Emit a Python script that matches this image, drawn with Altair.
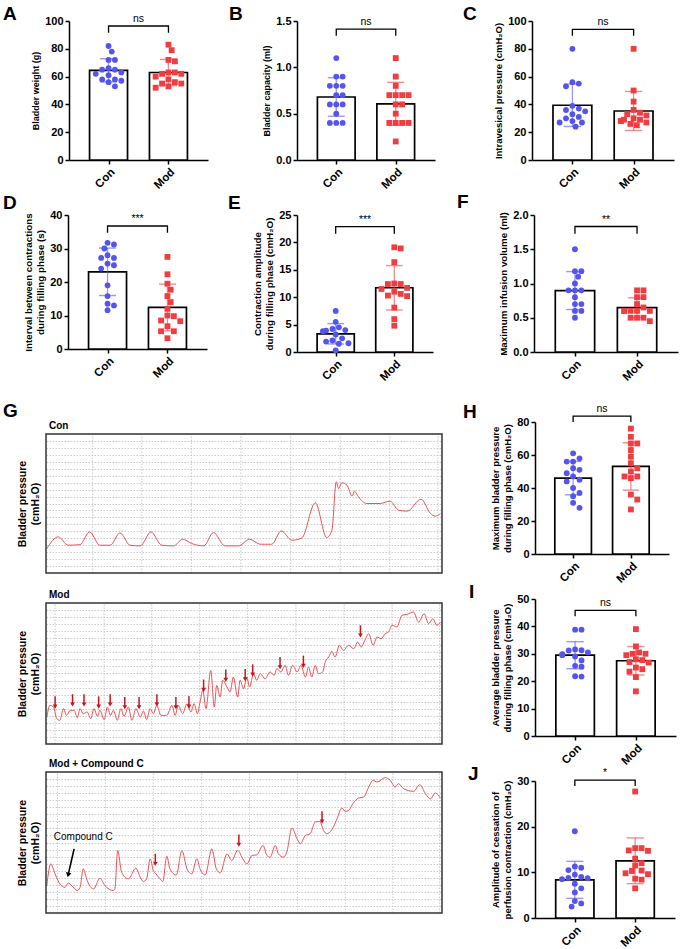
import altair as alt
import numpy as np
import pandas as pd

FONT = "Liberation Sans"
GROUPS = ["Con", "Mod"]
PT_COLORS = ["#5454ee", "#ef3e42"]
TRACE_COLOR = "#ea3f45"
ARROW_COLOR = "#c9141b"

# ---------------- bar-panel values ----------------
A_con = [82, 78, 72, 72, 66, 65, 65, 63, 62, 61, 58, 58, 57, 56, 53]
A_mod = [83, 79, 72, 71, 63, 63, 62, 62, 60, 58, 56, 55, 55, 53, 52]
B_con = [1.1, 0.9, 0.9, 0.8, 0.8, 0.8, 0.7, 0.7, 0.6, 0.6, 0.6, 0.5, 0.4, 0.4, 0.4]
B_mod = [1.1, 0.9, 0.8, 0.7, 0.7, 0.7, 0.7, 0.6, 0.6, 0.5, 0.4, 0.4, 0.4, 0.4, 0.2]
C_con = [80, 56, 55, 53, 39, 37, 36, 35, 33, 31, 30, 28, 27, 27, 24]
C_mod = [80, 50, 42, 36, 34, 33, 32, 30, 29, 29, 28, 28, 27, 26, 25]
D_con = [31.7, 31.2, 30.0, 28.0, 27.2, 27.2, 25.5, 25.0, 24.0, 19.0, 15.8, 13.5, 13.0, 11.6]
D_mod = [27.5, 22.3, 19.5, 17.7, 15.8, 14.0, 12.0, 10.0, 9.8, 8.5, 8.3, 6.8, 5.3, 5.3, 3.2]
E_con = [7.5, 5.5, 4.5, 4.2, 4.0, 3.9, 3.8, 3.2, 2.5, 2.1, 1.9, 1.6, 1.5, 0.3]
E_mod = [19.1, 18.9, 16.4, 12.5, 12.4, 12.4, 11.7, 11.5, 11.0, 10.6, 10.3, 10.2, 8.1, 6.0, 4.8]
F_con = [1.5, 1.18, 1.18, 1.1, 1.0, 0.9, 0.9, 0.9, 0.8, 0.7, 0.7, 0.6, 0.6, 0.5]
F_mod = [0.9, 0.9, 0.8, 0.8, 0.7, 0.65, 0.6, 0.6, 0.6, 0.6, 0.6, 0.5, 0.5, 0.5, 0.45]
H_con = [61, 58, 56, 56, 52, 51, 49, 47, 45, 44, 40, 37, 35, 31, 28]
H_mod = [76, 71, 67, 67, 63, 59, 55, 52, 50, 47, 47, 46, 36, 33, 27]
I_con = [38.8, 38.8, 31.6, 31.3, 31.2, 30.5, 29.9, 29.7, 29.5, 29.0, 27.6, 25.6, 25.3, 21.8, 21.7]
I_mod = [39.0, 32.7, 30.5, 30.0, 30.0, 29.5, 28.0, 27.7, 27.0, 26.8, 25.0, 24.4, 23.5, 21.5, 16.3]
J_con = [19.0, 11.3, 11.0, 10.5, 9.5, 9.0, 8.8, 8.7, 8.5, 7.5, 6.5, 5.6, 3.7, 3.2, 2.5]
J_mod = [27.7, 15.3, 15.3, 14.8, 14.7, 13.0, 12.0, 11.5, 10.4, 10.3, 9.8, 9.6, 8.6, 8.4, 6.5]

# ---------------- cystometry traces (time %, pressure %) ----------------
CON_T = [0.2, 3.1, 5.6, 8.6, 11.0, 13.6, 16.2, 18.7, 21.2, 23.8, 26.5, 29.2, 32.2, 34.5,
         36.8, 39.8, 42.3, 45.2, 48.6, 51.4, 54.1, 57.0, 59.4, 62.1, 64.6, 68.0, 70.9, 72.2,
         73.3, 73.9, 74.7, 76.0, 77.3, 77.9, 78.9, 81.0, 84.4, 86.9, 89.0, 91.2, 94.7, 97.1,
         98.3, 99.6]
CON_P = [17.5, 26.0, 20.0, 20.4, 29.6, 20.0, 20.0, 28.8, 20.0, 19.5, 29.6, 20.0, 19.5, 24.3,
         21.2, 19.5, 29.1, 19.5, 19.5, 24.3, 20.7, 20.7, 30.3, 23.6, 25.2, 50.5, 25.5, 30.8,
         65.6, 60.8, 64.9, 63.2, 55.3, 58.9, 54.8, 50.0, 50.0, 51.7, 45.2, 44.5, 53.1, 42.8,
         40.9, 42.8]
MOD_T = [0.2, 1.0, 1.9, 2.7, 3.5, 4.4, 5.2, 6.1, 7.1, 7.9, 8.6, 9.4, 10.4, 11.3, 12.1, 13.0,
         13.6, 14.7, 15.5, 16.3, 17.0, 18.0, 18.9, 19.7, 20.8, 21.7, 22.7, 23.8, 24.6, 25.4,
         26.3, 27.1, 28.0, 29.0, 30.5, 31.8, 32.6, 33.4, 34.5, 35.6, 36.6, 37.4, 38.2, 38.9,
         39.6, 40.4, 41.6, 42.5, 43.1, 44.0, 44.6, 45.7, 46.5, 47.3, 48.4, 49.0, 49.9, 50.7,
         51.4, 52.4, 53.2, 54.1, 55.3, 56.6, 57.6, 58.3, 59.3, 60.4, 61.2, 62.3, 63.4, 64.4,
         65.5, 66.3, 67.1, 68.0, 68.8, 69.9, 70.5, 71.4, 72.2, 73.0, 74.1, 75.1, 76.4, 77.7,
         78.7, 79.6, 80.6, 81.5, 82.6, 83.6, 84.6, 85.7, 86.5, 87.4, 88.6, 89.9, 91.2, 92.8,
         94.1, 95.5, 96.6, 97.7, 98.7, 99.6]
MOD_P = [19.1, 27.4, 26.2, 18.0, 16.8, 25.1, 20.3, 23.9, 23.9, 18.7, 25.1, 21.5, 22.7, 18.0,
         25.1, 19.6, 23.9, 17.3, 26.2, 20.3, 23.9, 16.8, 25.1, 19.6, 26.2, 16.8, 25.1, 19.1,
         23.4, 17.3, 25.1, 21.5, 27.4, 20.3, 20.3, 27.4, 20.3, 27.4, 21.5, 28.6, 22.7, 28.6,
         21.5, 29.8, 38.1, 25.1, 52.2, 26.2, 41.6, 33.3, 45.2, 40.4, 36.9, 47.5, 33.3, 45.2,
         39.2, 47.5, 40.4, 49.9, 45.2, 49.9, 46.3, 51.1, 48.7, 53.4, 51.1, 55.8, 48.7, 55.8,
         51.1, 55.8, 47.5, 54.6, 47.5, 55.8, 49.9, 51.1, 58.2, 61.7, 65.7, 61.7, 70.0, 66.4,
         70.0, 67.6, 72.3, 68.8, 74.0, 78.3, 70.0, 75.9, 74.7, 78.3, 79.4, 84.2, 83.0, 91.3,
         92.0, 93.6, 86.5, 92.4, 85.3, 88.9, 84.2, 86.5]
MODC_T = [0.2, 1.2, 2.3, 3.5, 4.8, 5.6, 6.5, 7.9, 8.6, 9.4, 10.4, 12.0, 13.6, 14.9, 17.0,
          17.4, 18.1, 19.1, 20.8, 22.7, 23.8, 24.6, 25.4, 26.3, 27.1, 27.8, 28.8, 29.5, 30.5,
          31.3, 32.9, 34.3, 35.6, 36.8, 38.1, 38.9, 40.2, 41.9, 43.0, 44.0, 45.7, 46.9, 48.4,
          49.7, 50.7, 52.0, 53.2, 54.8, 55.8, 56.6, 57.9, 58.7, 60.0, 60.8, 62.1, 63.4, 64.2,
          65.5, 66.7, 68.0, 69.1, 70.1, 70.9, 72.2, 73.5, 74.7, 75.6, 76.4, 77.5, 78.9, 80.2,
          81.5, 82.6, 83.6, 85.7, 86.9, 88.2, 89.0, 90.3, 92.8, 94.4, 95.8, 97.1, 98.3, 99.6]
MODC_P = [19.4, 34.8, 27.7, 20.6, 18.2, 21.3, 19.4, 15.9, 18.2, 31.3, 23.0, 17.1, 24.6, 19.4,
          15.9, 17.1, 44.3, 28.9, 24.2, 31.8, 25.4, 22.3, 24.2, 38.4, 30.1, 27.7, 24.2, 22.3,
          40.3, 31.3, 27.0, 44.3, 31.3, 27.7, 38.4, 31.3, 27.0, 45.5, 31.3, 28.4, 41.9, 37.2,
          44.3, 38.4, 34.8, 40.8, 41.2, 47.9, 40.8, 39.6, 47.9, 41.9, 39.6, 43.1, 60.2, 52.6,
          49.1, 55.0, 56.2, 64.5, 64.9, 58.5, 56.2, 59.2, 66.8, 74.4, 72.0, 72.7, 77.5, 81.5,
          82.2, 89.3, 94.1, 92.9, 96.0, 94.1, 89.3, 91.7, 88.2, 86.3, 91.0, 84.6, 81.0, 85.1,
          81.5]

# arrow tips (time %, pressure %)
MOD_ARROW_T = [2.3, 6.7, 9.6, 13.3, 16.2, 19.9, 23.5, 28.0, 32.8, 36.1, 39.8, 45.4, 50.3,
               52.2, 59.1, 65.0, 79.4]
MOD_ARROW_P = [24.3, 25.8, 25.8, 24.3, 25.8, 23.9, 23.9, 25.8, 23.9, 24.3, 36.2, 43.3, 43.7,
               47.0, 52.2, 53.2, 74.7]
MODC_ARROW_T = [27.6, 48.7, 69.7]
MODC_ARROW_P = [32.5, 46.2, 62.6]
DRUG_ARROW_T = [7.1, 5.6]
DRUG_ARROW_P = [45.5, 27.0]
DRUG_LABEL = ["Compound C"]
DRUG_LABEL_T = [9.4]
DRUG_LABEL_P = [53.8]

# vertical grid positions of the recorder (time %)
CON_VGRID = [11.8, 24.2, 36.7, 49.2, 61.8, 74.3, 86.8, 99.0]
MOD_VGRID = [2.3, 14.7, 26.7, 38.8, 50.9, 63.1, 75.3, 87.4, 99.4]
MODC_VGRID = [2.9, 15.0, 27.1, 39.3, 51.4, 63.5, 75.6, 87.6, 99.4]
H_GRID = list(range(5, 100, 5))

CMH2O = "(cmH\u2082O)"
XDOM = [-0.66, 1.66]
BAR_HALF = 0.317
CAP_HALF = 0.142
POS_EXPR = "indexof(['Con', 'Mod'], datum.group)"


def swarm(values, ppu, diam=6.4, maxoff=15.0):
    vals = np.asarray(values, float)
    order = np.argsort(-vals, kind="stable")
    cands = [0.0]
    k = 1
    while k * diam / 2 <= maxoff:
        cands += [k * diam / 2, -k * diam / 2]
        k += 1
    placed, offs = [], np.zeros(len(vals))
    for i in order:
        y = vals[i] * ppu
        chosen = cands[-1]
        for c in cands:
            if all((c - px) ** 2 + (y - py) ** 2 >= (diam * 0.95) ** 2 for px, py in placed):
                chosen = c
                break
        offs[i] = chosen
        placed.append((chosen, y))
    return offs.tolist()


def letter_layer(letter, ldx, ldy):
    return alt.Chart(pd.DataFrame({"L": [letter]})).mark_text(
        align="left", baseline="alphabetic", fontSize=19, fontWeight="bold",
        color="black").encode(text="L:N", x=alt.value(ldx), y=alt.value(ldy))


def bar_panel(letter, con, mod, ymax, ystep, ytitle, sig, bk, w, h, fmt, ldx, ldy, tsize=9.5):
    ppu = h / ymax
    ppx = w / (XDOM[1] - XDOM[0])
    offs = swarm(con, ppu) + swarm(mod, ppu)
    df = pd.DataFrame({
        "group": ["Con"] * len(con) + ["Mod"] * len(mod),
        "value": list(con) + list(mod),
        "off": [o / ppx for o in offs],
    })
    xs = alt.Scale(domain=XDOM, nice=False, zero=False)
    xaxis = alt.Axis(title=None, values=[0, 1], labelExpr="['Con', 'Mod'][datum.value]",
                     labelAngle=-45, labelFontSize=11.5, labelFontWeight="bold",
                     labelColor="black", domainColor="black", domainWidth=1.5,
                     tickColor="black", tickWidth=1.5, tickSize=4, labelPadding=2, grid=False)
    ys = alt.Scale(domain=[0, ymax], nice=False, zero=True)
    yvals = [round(v, 3) for v in np.arange(0, ymax + 1e-9, ystep)]
    yaxis = alt.Axis(title=ytitle, values=yvals, format=fmt, labelFontSize=11,
                     labelFontWeight="bold", labelColor="black", domainColor="black",
                     domainWidth=1.5, tickColor="black", tickWidth=1.5, tickSize=4,
                     labelPadding=2, titleFontSize=tsize, titleFontWeight="bold",
                     titleColor="black", titlePadding=4, titleLineHeight=12.5, grid=False)

    def xenc(f):
        return alt.X(f, scale=xs, axis=xaxis)

    def yenc(f):
        return alt.Y(f, scale=ys, axis=yaxis)

    colenc = alt.Color("group:N", scale=alt.Scale(domain=GROUPS, range=PT_COLORS), legend=None)
    base = alt.Chart(df).transform_calculate(pos=POS_EXPR)
    stats = base.transform_aggregate(m="mean(value)", s="stdev(value)", groupby=["group"]) \
        .transform_calculate(pos=POS_EXPR, lo="datum.m - datum.s", hi="datum.m + datum.s",
                             xl=f"datum.pos - {BAR_HALF}", xr=f"datum.pos + {BAR_HALF}",
                             cl=f"datum.pos - {CAP_HALF}", cr=f"datum.pos + {CAP_HALF}",
                             z="0")
    bars = stats.mark_bar(fill="white", stroke="black", strokeWidth=1.7).encode(
        x=xenc("xl:Q"), x2="xr:Q", y=yenc("m:Q"), y2="z:Q")
    pts = base.transform_calculate(px="datum.pos + datum.off").mark_point(
        filled=True, size=34, opacity=1).encode(
        x=xenc("px:Q"), y=yenc("value:Q"), color=colenc,
        shape=alt.Shape("group:N", scale=alt.Scale(domain=GROUPS, range=["circle", "square"]),
                        legend=None))
    err = stats.mark_rule(strokeWidth=1.3, opacity=0.6).encode(
        x=xenc("pos:Q"), y=yenc("lo:Q"), y2="hi:Q", color=colenc)
    cap_hi = stats.mark_rule(strokeWidth=1.4, opacity=0.6).encode(
        x=xenc("cl:Q"), x2="cr:Q", y=yenc("hi:Q"), color=colenc)
    cap_lo = stats.mark_rule(strokeWidth=1.4, opacity=0.6).encode(
        x=xenc("cl:Q"), x2="cr:Q", y=yenc("lo:Q"), color=colenc)
    bk_hi, bk_lo = bk[0] * ymax, bk[1] * ymax
    bdf = pd.DataFrame({"group": ["Con", "Con", "Mod", "Mod"],
                        "y": [bk_lo, bk_hi, bk_hi, bk_lo], "o": [0, 1, 2, 3]})
    bracket = alt.Chart(bdf).transform_calculate(pos=POS_EXPR).mark_line(
        color="black", strokeWidth=1.3).encode(x=xenc("pos:Q"), y=yenc("y:Q"), order="o:Q")
    sdf = pd.DataFrame({"t": [sig], "y": [bk_hi]})
    stext = alt.Chart(sdf).transform_calculate(mid="0.5").mark_text(
        dy=-2, baseline="bottom", fontSize=10.5, color="black").encode(
        x=xenc("mid:Q"), y=yenc("y:Q"), text="t:N")
    return alt.layer(bars, pts, err, cap_hi, cap_lo, bracket, stext,
                     letter_layer(letter, ldx, ldy)).properties(width=w, height=h)


def trace_panel(label, t, p, at, ap, vgrid, box_h, head, letter=None, ldx=-43, ldy=-5,
                drug=False):
    ytop = 100.0 * (box_h + head) / box_h
    xsc = alt.Scale(domain=[0, 100], nice=False, zero=False)
    ysc = alt.Scale(domain=[0, ytop], nice=False, zero=False)
    yaxis = alt.Axis(title=["Bladder pressure", CMH2O], labels=False, ticks=False, domain=False,
                     grid=True, values=H_GRID, gridColor="#bdbdbd", gridDash=[1.5, 1.5],
                     gridWidth=0.8, titleFontSize=10.5, titleFontWeight="bold",
                     titleColor="black", titlePadding=6, titleY=head + box_h / 2,
                     titleLineHeight=13)

    def xenc(f):
        return alt.X(f, scale=xsc, axis=None)

    def yenc(f):
        return alt.Y(f, scale=ysc, axis=yaxis)

    tr = pd.DataFrame({"t": t, "p": p})
    line = alt.Chart(tr).mark_line(color=TRACE_COLOR, strokeWidth=0.9,
                                   interpolate="monotone").encode(x=xenc("t:Q"), y=yenc("p:Q"))
    vg = alt.Chart(pd.DataFrame({"g": vgrid})).transform_calculate(a="0", b="100") \
        .mark_rule(color="#bdbdbd", strokeWidth=0.8, strokeDash=[1.5, 1.5]).encode(
        x=xenc("g:Q"), y=yenc("a:Q"), y2="b:Q")
    box = alt.Chart(pd.DataFrame({"k": [0]})).transform_calculate(
        x0="0", x1="100", y0="0", y1="100").mark_rect(
        fillOpacity=0, stroke="#333333", strokeWidth=1.5).encode(
        x=xenc("x0:Q"), x2="x1:Q", y=yenc("y0:Q"), y2="y1:Q")
    lab = alt.Chart(pd.DataFrame({"txt": [label]})).transform_calculate(
        lx="0", ly="100").mark_text(align="left", baseline="alphabetic", dx=3, dy=-5,
                                    fontSize=10, fontWeight="bold", color="black").encode(
        x=xenc("lx:Q"), y=yenc("ly:Q"), text="txt:N")
    layers = [vg, line]
    if at:
        adf = pd.DataFrame({"t": at, "p": ap})
        ab = alt.Chart(adf).transform_calculate(top="datum.p + 9.5", neck="datum.p + 3",
                                                hc="datum.p + 2.2")
        layers.append(ab.mark_rule(color=ARROW_COLOR, strokeWidth=1.5).encode(
            x=xenc("t:Q"), y=yenc("top:Q"), y2="neck:Q"))
        layers.append(ab.mark_point(shape="triangle-down", filled=True, size=22, opacity=1,
                                    color=ARROW_COLOR).encode(x=xenc("t:Q"), y=yenc("hc:Q")))
    layers += [box, lab]
    if drug:
        ddf = pd.DataFrame({"t": DRUG_ARROW_T, "p": DRUG_ARROW_P, "o": [0, 1]})
        layers.append(alt.Chart(ddf).mark_line(color="black", strokeWidth=1.6).encode(
            x=xenc("t:Q"), y=yenc("p:Q"), order="o:Q"))
        layers.append(alt.Chart(ddf.iloc[[1]]).mark_point(
            shape="triangle-down", filled=True, size=30, angle=12, opacity=1,
            color="black").encode(x=xenc("t:Q"), y=yenc("p:Q")))
        layers.append(alt.Chart(pd.DataFrame({"t": DRUG_LABEL_T, "p": DRUG_LABEL_P,
                                              "txt": DRUG_LABEL})).mark_text(
            fontSize=10, color="black").encode(x=xenc("t:Q"), y=yenc("p:Q"), text="txt:N"))
    if letter:
        layers.append(letter_layer(letter, ldx, ldy))
    return alt.layer(*layers).properties(width=396, height=box_h + head)


def spacer(w):
    return alt.Chart(pd.DataFrame({"v": [0]})).mark_point(opacity=0).encode(
        x=alt.X("v:Q", axis=None), y=alt.Y("v:Q", axis=None)).properties(width=w, height=10)


A = bar_panel("A", A_con, A_mod, 100, 20, "Bladder weight (g)", "ns", (0.964, 0.916),
              139, 139, "d", -66, -1, 9)
B = bar_panel("B", B_con, B_mod, 1.5, 0.5, "Bladder capacity (ml)", "ns", (0.942, 0.893),
              138, 139, ".1f", -68, -1, 9)
C = bar_panel("C", C_con, C_mod, 100, 20, "Intravesical pressure " + CMH2O, "ns",
              (0.94, 0.893), 142, 139, "d", -69, -1, 9.5)
D = bar_panel("D", D_con, D_mod, 40, 10,
              ["Interval between contractions", "during filling phase (s)"], "***",
              (0.918, 0.868), 139, 134, "d", -65, -6, 9.8)
E = bar_panel("E", E_con, E_mod, 25, 5,
              ["Contraction amplitude", "during filling phase " + CMH2O], "***",
              (0.915, 0.863), 136, 137, "d", -69, -6, 9.8)
F = bar_panel("F", F_con, F_mod, 2.0, 0.5, "Maximum infusion volume (ml)", "**",
              (0.916, 0.863), 144, 137, ".1f", -77, -7, 9.8)
H = bar_panel("H", H_con, H_mod, 80, 20,
              ["Maximum bladder pressure", "during filling phase " + CMH2O], "ns",
              (1.045, 1.0), 134, 132, "d", -72, -4, 9.5)
I = bar_panel("I", I_con, I_mod, 50, 10,
              ["Average bladder pressure", "during filling phase " + CMH2O], "ns",
              (0.917, 0.874), 141, 137, "d", -66, -1, 9.5)
J = bar_panel("J", J_con, J_mod, 30, 10,
              ["Amplitude of cessation of", "perfusion contraction " + CMH2O], "*",
              (1.007, 0.963), 140, 137, "d", -67, -1, 9.5)

G1 = trace_panel("Con", CON_T, CON_P, [], [], CON_VGRID, 139, 12, letter="G")
G2 = trace_panel("Mod", MOD_T, MOD_P, MOD_ARROW_T, MOD_ARROW_P, MOD_VGRID, 141, 13)
G3 = trace_panel("Mod + Compound C", MODC_T, MODC_P, MODC_ARROW_T, MODC_ARROW_P, MODC_VGRID,
                 141, 11, drug=True)

row1 = alt.hconcat(spacer(23), A, spacer(89), B, spacer(97), C, spacing=0, bounds="flush")
row2 = alt.hconcat(spacer(22), D, spacer(90), E, spacer(101), F, spacing=0, bounds="flush")
gcol = alt.vconcat(G1, G2, G3, spacing=17, bounds="flush")
hij = alt.vconcat(H, I, J, spacing=45, bounds="flush")
row3 = alt.hconcat(gcol, hij, spacing=20)
top = alt.vconcat(row1, row2, spacing=2)
chart = alt.vconcat(top, row3, spacing=19).properties(
    padding={"left": 3, "top": 5, "right": 2, "bottom": 2}, background="white")
chart = chart.configure(font=FONT).configure_view(strokeWidth=0).configure_axis(
    labelFont=FONT, titleFont=FONT)

chart.save("out.html", embed_options={"renderer": "svg", "actions": False})
